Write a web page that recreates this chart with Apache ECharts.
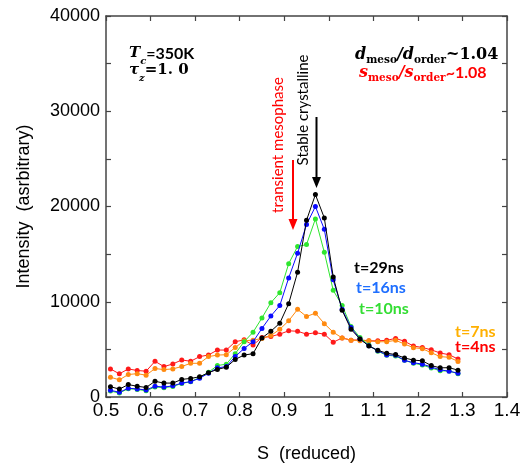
<!DOCTYPE html>
<html>
<head>
<meta charset="utf-8">
<script src="https://cdn.jsdelivr.net/npm/echarts@6/dist/echarts.min.js"></script>
<style>
html,body{margin:0;padding:0;background:#fff;}
#chart{width:524px;height:468px;}
</style>
</head>
<body>
<div id="chart"></div>
<script>
// S (reduced) sample positions
const S = [0.51,0.53,0.55,0.57,0.59,0.61,0.63,0.65,0.67,0.69,
           0.71,0.73,0.75,0.77,0.79,0.81,0.83,0.85,0.87,0.89,
           0.91,0.93,0.95,0.97,0.99,1.01,1.03,1.05,1.07,1.09,
           1.11,1.13,1.15,1.17,1.19,1.21,1.23,1.25,1.27,1.29];

const t4 = [2950,2430,2950,2780,2710,3750,3190,3470,3890,3750,
            4240,4410,4930,4930,5800,6000,5450,6250,6350,6600,
            6950,6900,6600,6750,6600,5750,6200,5970,6000,5900,
            5900,5950,6150,5850,5350,5200,4950,4620,4440,3990];

const t7 = [2080,1800,2360,2450,2290,2990,2880,2950,3200,3540,
            3540,4240,4400,4440,5200,5900,5970,6150,6450,7100,
            8000,9200,8450,8800,7700,6800,6200,5970,5900,5900,
            5800,5800,5950,5560,5180,5070,4650,4240,4170,3740];

const t10 = [620,420,870,800,650,1050,980,1100,1420,1600,
             2050,2600,3300,3450,4550,5800,6800,8300,9900,10950,
             14000,15800,16000,18700,15200,11200,9600,7400,6250,5450,
             4800,4380,4300,3850,3550,3350,3050,2750,2720,2450];

const t16 = [700,500,920,850,730,1130,1040,1170,1460,1620,
             1960,2500,3060,3190,4240,5100,5800,7200,8500,9600,
             12500,15100,18100,20000,17600,12300,9200,7300,6080,5380,
             4860,4420,4380,3850,3600,3450,3150,2850,2710,2500];

const t29 = [1080,830,1300,1130,1000,1650,1460,1460,1850,1950,
             2120,2550,2900,3125,3950,4400,4550,6200,6900,7750,
             9800,13100,18550,21250,18800,12600,9100,7100,6100,5350,
             4900,4600,4450,4100,3870,3800,3300,3060,3080,2820];

const seriesNames = ['t=4ns','t=7ns','t=10ns','t=16ns','t=29ns'];
const seriesValues = [t4, t7, t10, t16, t29];
const seriesColors = ['#ff1a1a','#ff8a10','#2ee62e','#0a0aff','#000000'];

const xTicks = [0.5,0.6,0.7,0.8,0.9,1.0,1.1,1.2,1.3,1.4];
const yTickLabels = [0,10000,20000,30000,40000];

const chart = echarts.init(document.getElementById('chart'), null, {renderer:'canvas'});

const axisColor = '#444';
function xAxisCfg(pos, showLabel){
  return {
    type:'value', position:pos, min:0.5, max:1.4, interval:0.1,
    axisLine:{show:true, onZero:false, lineStyle:{color:axisColor, width:1.5}},
    axisTick:{show:true, inside:true, length:5, lineStyle:{color:axisColor, width:1.2}},
    splitLine:{show:false},
    axisLabel:{show:showLabel, margin:4, color:'#000', fontFamily:'Liberation Sans', fontSize:19,
      formatter:function(v){ return String(parseFloat(v.toFixed(1))); }},
    name: showLabel ? 'S  (reduced)' : '',
    nameLocation:'middle', nameGap:48,
    nameTextStyle:{color:'#000', fontFamily:'Liberation Sans', fontSize:18}
  };
}
function yAxisCfg(pos, showLabel){
  return {
    type:'value', position:pos, min:0, max:40000, interval:5000,
    axisLine:{show:true, onZero:false, lineStyle:{color:axisColor, width:1.5}},
    axisTick:{show:true, inside:true, length:5, lineStyle:{color:axisColor, width:1.2}},
    splitLine:{show:false},
    axisLabel:{show:showLabel, margin:6, color:'#000', fontFamily:'Liberation Sans', fontSize:18,
      formatter:function(v){ return yTickLabels.indexOf(Math.round(v))>=0 ? String(Math.round(v)) : ''; }},
    name: showLabel ? 'Intensity  (asrbitrary)' : '',
    nameLocation:'middle', nameGap:73,
    nameTextStyle:{color:'#000', fontFamily:'Liberation Sans', fontSize:18}
  };
}

const series = seriesValues.map(function(vals, k){
  return {
    name: seriesNames[k], type:'line',
    xAxisIndex:0, yAxisIndex:0,
    data: S.map(function(s,i){ return [s, vals[i]]; }),
    symbol:'circle', symbolSize:5, showSymbol:true,
    itemStyle:{color:seriesColors[k]},
    lineStyle:{color:seriesColors[k], width:1},
    animation:false, z: 2+k
  };
});

const serif = 'DejaVu Serif';
const sans = 'Lato';

const graphics = [
  // T_c = 350K
  {type:'text', x:129, y:46, style:{
    text:'{a|T}{b|c}{n|=350K}',
    rich:{
      a:{fontFamily:serif, fontStyle:'italic', fontWeight:'bold', fontSize:15, fill:'#000', verticalAlign:'top', lineHeight:18},
      b:{fontFamily:serif, fontStyle:'italic', fontWeight:'bold', fontSize:10, fill:'#000', verticalAlign:'bottom', lineHeight:20},
      n:{fontFamily:sans, fontWeight:'bold', fontSize:16, fill:'#000', verticalAlign:'top', lineHeight:18}
    }}},
  // tau_z = 1.0
  {type:'text', x:129, y:63, style:{
    text:'{a|τ}{b|z}{n|=1. 0}',
    rich:{
      a:{fontFamily:serif, fontStyle:'italic', fontWeight:'bold', fontSize:15, fill:'#000', verticalAlign:'top', lineHeight:18},
      b:{fontFamily:serif, fontStyle:'italic', fontWeight:'bold', fontSize:10, fill:'#000', verticalAlign:'bottom', lineHeight:20},
      n:{fontFamily:serif, fontWeight:'bold', fontSize:15, fill:'#000', verticalAlign:'top', lineHeight:18}
    }}},
  // d_meso / d_order ~ 1.04
  {type:'text', x:355, y:47, style:{
    text:'{a|d}{b|meso}{a|/}{a|d}{b|order}{n|~1.04}',
    rich:{
      a:{fontFamily:serif, fontStyle:'italic', fontWeight:'bold', fontSize:16, fill:'#000', verticalAlign:'top', lineHeight:18},
      b:{fontFamily:serif, fontWeight:'bold', fontSize:10.5, fill:'#000', verticalAlign:'bottom', lineHeight:19},
      n:{fontFamily:serif, fontWeight:'bold', fontSize:16, fill:'#000', verticalAlign:'top', lineHeight:18}
    }}},
  // s_meso / s_order ~ 1.08
  {type:'text', x:359, y:65, style:{
    text:'{a|s}{b|meso}{a|/}{a|s}{b|order}{n|~1.08}',
    rich:{
      a:{fontFamily:serif, fontStyle:'italic', fontWeight:'bold', fontSize:16, fill:'#ff0000', verticalAlign:'top', lineHeight:18},
      b:{fontFamily:serif, fontWeight:'bold', fontSize:10.5, fill:'#ff0000', verticalAlign:'bottom', lineHeight:19},
      n:{fontFamily:sans, fontWeight:'bold', fontSize:16, fill:'#ff0000', verticalAlign:'top', lineHeight:18}
    }}},
  // vertical annotation texts
  {type:'text', x:278, y:145, rotation:Math.PI/2, style:{
    text:'transient mesophase', fontFamily:sans, fontSize:15, fill:'#ff0000', align:'center', verticalAlign:'middle'}},
  {type:'text', x:303, y:110, rotation:Math.PI/2, style:{
    text:'Stable crystalline', fontFamily:sans, fontSize:15, fill:'#000', align:'center', verticalAlign:'middle'}},
  // arrows
  {type:'line', shape:{x1:293, y1:160, x2:293, y2:222}, style:{stroke:'#ff0000', lineWidth:2}},
  {type:'polygon', shape:{points:[[288.5,219],[297.5,219],[293,230]]}, style:{fill:'#ff0000'}},
  {type:'line', shape:{x1:316.5, y1:117, x2:316.5, y2:180}, style:{stroke:'#000', lineWidth:2}},
  {type:'polygon', shape:{points:[[312,177],[321,177],[316.5,188]]}, style:{fill:'#000'}},
  // series labels
  {type:'text', x:354, y:268, style:{text:'t=29ns', fontFamily:sans, fontWeight:'bold', fontSize:16, fill:'#000', verticalAlign:'middle'}},
  {type:'text', x:356, y:288, style:{text:'t=16ns', fontFamily:sans, fontWeight:'bold', fontSize:16, fill:'#1f6fff', verticalAlign:'middle'}},
  {type:'text', x:359, y:309, style:{text:'t=10ns', fontFamily:sans, fontWeight:'bold', fontSize:16, fill:'#33dd33', verticalAlign:'middle'}},
  {type:'text', x:455, y:332, style:{text:'t=7ns', fontFamily:sans, fontWeight:'bold', fontSize:16, fill:'#ffb000', verticalAlign:'middle'}},
  {type:'text', x:455, y:347, style:{text:'t=4ns', fontFamily:sans, fontWeight:'bold', fontSize:16, fill:'#ff0000', verticalAlign:'middle'}}
];

chart.setOption({
  animation:false,
  backgroundColor:'#fff',
  grid:{left:106, right:17, top:16, bottom:69, containLabel:false},
  xAxis:[xAxisCfg('bottom', true), xAxisCfg('top', false)],
  yAxis:[yAxisCfg('left', true), yAxisCfg('right', false)],
  series: series,
  graphic: graphics
});
</script>
</body>
</html>
